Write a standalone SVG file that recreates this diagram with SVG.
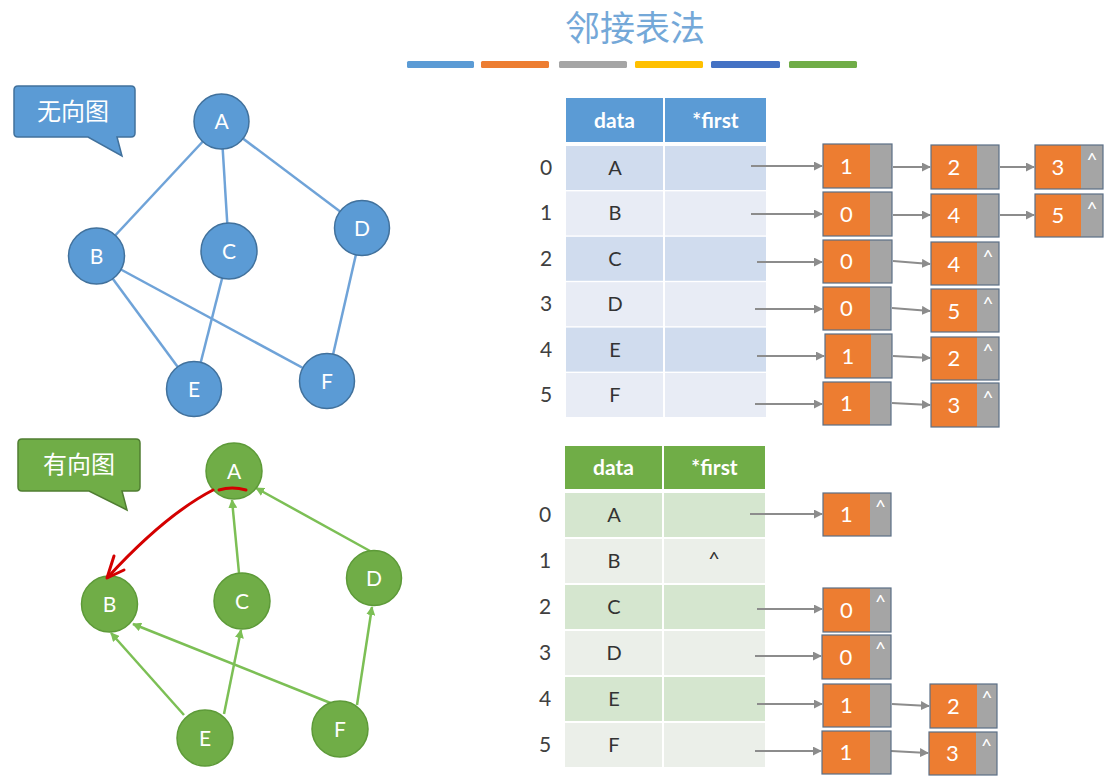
<svg xmlns="http://www.w3.org/2000/svg" width="1107" height="784" viewBox="0 0 1107 784">
<defs>
<style>
.t{font-family:Lato,"Open Sans","Liberation Sans",sans-serif;text-anchor:middle}
.cjk{font-family:"Noto Sans CJK SC",sans-serif;text-anchor:middle}
.bn circle{fill:#5b9bd5;stroke:#41719c;stroke-width:1.5}
.gn circle{fill:#70ad47;stroke:#5d9a38;stroke-width:1.5}
.nl{font-size:21px;fill:#fff}
.be{stroke:#6fa3d8;stroke-width:2.5;fill:none}
.ge{stroke:#7cbf55;stroke-width:2.5;fill:none}
.pa{stroke:#8c8c8c;stroke-width:2;fill:none}
.idx{font-size:21px;fill:#404040}
.cell{font-size:20px;fill:#333}
.hd{font-size:21px;fill:#fff;font-weight:bold}
.or{fill:#ed7d31}
.gr{fill:#a5a5a5}
.box{fill:none;stroke:#5b6f86;stroke-width:1.2}
.nv{font-size:22px;fill:#fff}
.nul{font-size:19px;fill:#fff}
</style>
<marker id="ga" viewBox="0 0 10 10" refX="9" refY="5" markerWidth="9" markerHeight="9" markerUnits="userSpaceOnUse" orient="auto"><path d="M0,0 L10,5 L0,10 z" fill="#8c8c8c"/></marker>
<marker id="gg" viewBox="0 0 10 10" refX="9" refY="5" markerWidth="9" markerHeight="9" markerUnits="userSpaceOnUse" orient="auto"><path d="M0,0 L10,5 L0,10 z" fill="#7cbf55"/></marker>
</defs>
<rect width="1107" height="784" fill="#fff"/>

<g id="title">
<text class="cjk" x="635" y="41" font-size="35" fill="#74a8d8">邻接表法</text>
<rect x="407" y="61" width="67" height="7" rx="1.5" fill="#5b9bd5"/>
<rect x="481" y="61" width="68" height="7" rx="1.5" fill="#ed7d31"/>
<rect x="559" y="61" width="68" height="7" rx="1.5" fill="#a5a5a5"/>
<rect x="635" y="61" width="68" height="7" rx="1.5" fill="#ffc000"/>
<rect x="711" y="61" width="69" height="7" rx="1.5" fill="#4472c4"/>
<rect x="789" y="61" width="68" height="7" rx="1.5" fill="#70ad47"/>
</g>

<g id="callout-undirected">
<path d="M18,86 H131 Q135,86 135,90 V133 Q135,137 131,137 H117 L122,156 L88,137 H18 Q14,137 14,133 V90 Q14,86 18,86 Z" fill="#5b9bd5" stroke="#41719c" stroke-width="1.5"/>
<text class="cjk" x="73" y="120" font-size="24" fill="#fff">无向图</text>
</g>

<g id="undirected-edges">
<line class="be" x1="221" y1="122" x2="96" y2="256"/>
<line class="be" x1="221" y1="122" x2="229" y2="251"/>
<line class="be" x1="221" y1="122" x2="362" y2="228"/>
<line class="be" x1="96" y1="256" x2="194" y2="389"/>
<line class="be" x1="96" y1="256" x2="327" y2="381"/>
<line class="be" x1="229" y1="251" x2="194" y2="389"/>
<line class="be" x1="362" y1="228" x2="327" y2="381"/>
</g>
<g id="uA" class="bn"><circle cx="221.5" cy="121.5" r="27.5"/><text class="t nl" x="221.5" y="129">A</text></g>
<g id="uB" class="bn"><circle cx="96.5" cy="256" r="28"/><text class="t nl" x="96.5" y="263.5">B</text></g>
<g id="uC" class="bn"><circle cx="229" cy="251" r="28"/><text class="t nl" x="229" y="258.5">C</text></g>
<g id="uD" class="bn"><circle cx="362" cy="228" r="27.5"/><text class="t nl" x="362" y="235.5">D</text></g>
<g id="uE" class="bn"><circle cx="194" cy="389" r="27.5"/><text class="t nl" x="194" y="396.5">E</text></g>
<g id="uF" class="bn"><circle cx="327" cy="381" r="27.5"/><text class="t nl" x="327" y="388.5">F</text></g>

<g id="callout-directed">
<path d="M22,439 H136 Q140,439 140,443 V487 Q140,491 136,491 H122 L127,510 L89,491 H22 Q18,491 18,487 V443 Q18,439 22,439 Z" fill="#70ad47" stroke="#507e32" stroke-width="1.5"/>
<text class="cjk" x="79" y="473" font-size="24" fill="#fff">有向图</text>
</g>

<g id="directed-edges">
<line class="ge" x1="239" y1="573" x2="232" y2="500" marker-end="url(#gg)"/>
<line class="ge" x1="370" y1="551" x2="256" y2="488" marker-end="url(#gg)"/>
<line class="ge" x1="184" y1="715" x2="111" y2="633" marker-end="url(#gg)"/>
<line class="ge" x1="333" y1="704" x2="133" y2="624" marker-end="url(#gg)"/>
<line class="ge" x1="224" y1="714" x2="241" y2="630" marker-end="url(#gg)"/>
<line class="ge" x1="357" y1="705" x2="372" y2="607" marker-end="url(#gg)"/>
</g>
<g id="dA" class="gn"><circle cx="234" cy="471" r="28"/><text class="t nl" x="234" y="478.5">A</text></g>
<g id="dB" class="gn"><circle cx="109.5" cy="604" r="28"/><text class="t nl" x="109.5" y="611.5">B</text></g>
<g id="dC" class="gn"><circle cx="242" cy="601" r="28"/><text class="t nl" x="242" y="608.5">C</text></g>
<g id="dD" class="gn"><circle cx="374" cy="578" r="27.5"/><text class="t nl" x="374" y="585.5">D</text></g>
<g id="dE" class="gn"><circle cx="205" cy="738" r="28"/><text class="t nl" x="205" y="745.5">E</text></g>
<g id="dF" class="gn"><circle cx="340" cy="729" r="28"/><text class="t nl" x="340" y="736.5">F</text></g>

<g id="red-annotation" fill="none" stroke="#d40000" stroke-width="3" stroke-linecap="round" stroke-linejoin="round">
<path d="M219,490 Q232,486 246,490"/>
<path d="M213,490 Q165,515 108,577"/>
<path d="M114,556 L107,578 L124,570"/>
</g>

<g id="table-undirected">
<rect x="566" y="98" width="97" height="44" fill="#5b9bd5"/>
<rect x="665" y="98" width="101" height="44" fill="#5b9bd5"/>
<text class="t hd" x="614.5" y="128">data</text>
<text class="t hd" x="715.5" y="128">*first</text>
<rect x="566" y="146" width="97" height="44" fill="#d0dcee"/><rect x="665" y="146" width="101" height="44" fill="#d0dcee"/>
<rect x="566" y="191.4" width="97" height="44" fill="#e8ecf5"/><rect x="665" y="191.4" width="101" height="44" fill="#e8ecf5"/>
<rect x="566" y="236.8" width="97" height="44" fill="#d0dcee"/><rect x="665" y="236.8" width="101" height="44" fill="#d0dcee"/>
<rect x="566" y="282.2" width="97" height="44" fill="#e8ecf5"/><rect x="665" y="282.2" width="101" height="44" fill="#e8ecf5"/>
<rect x="566" y="327.6" width="97" height="44" fill="#d0dcee"/><rect x="665" y="327.6" width="101" height="44" fill="#d0dcee"/>
<rect x="566" y="373" width="97" height="44" fill="#e8ecf5"/><rect x="665" y="373" width="101" height="44" fill="#e8ecf5"/>
<text class="t idx" x="546" y="175">0</text><text class="t cell" x="615" y="175">A</text>
<text class="t idx" x="546" y="220">1</text><text class="t cell" x="615" y="220">B</text>
<text class="t idx" x="546" y="266">2</text><text class="t cell" x="615" y="266">C</text>
<text class="t idx" x="546" y="311">3</text><text class="t cell" x="615" y="311">D</text>
<text class="t idx" x="546" y="357">4</text><text class="t cell" x="615" y="357">E</text>
<text class="t idx" x="546" y="402">5</text><text class="t cell" x="615" y="402">F</text>
</g>

<g id="table-directed">
<rect x="565" y="446" width="97" height="43" fill="#70ad47"/>
<rect x="664" y="446" width="101" height="43" fill="#70ad47"/>
<text class="t hd" x="613.5" y="475">data</text>
<text class="t hd" x="714.5" y="475">*first</text>
<rect x="565" y="493" width="97" height="44" fill="#d5e6cf"/><rect x="664" y="493" width="101" height="44" fill="#d5e6cf"/>
<rect x="565" y="539" width="97" height="44" fill="#ebefe9"/><rect x="664" y="539" width="101" height="44" fill="#ebefe9"/>
<rect x="565" y="585" width="97" height="44" fill="#d5e6cf"/><rect x="664" y="585" width="101" height="44" fill="#d5e6cf"/>
<rect x="565" y="631" width="97" height="44" fill="#ebefe9"/><rect x="664" y="631" width="101" height="44" fill="#ebefe9"/>
<rect x="565" y="677" width="97" height="44" fill="#d5e6cf"/><rect x="664" y="677" width="101" height="44" fill="#d5e6cf"/>
<rect x="565" y="723" width="97" height="44" fill="#ebefe9"/><rect x="664" y="723" width="101" height="44" fill="#ebefe9"/>
<text class="t idx" x="545" y="522">0</text><text class="t cell" x="614" y="522">A</text>
<text class="t idx" x="545" y="568">1</text><text class="t cell" x="614" y="568">B</text>
<text class="t cell" x="714" y="566" font-size="17">^</text>
<text class="t idx" x="545" y="614">2</text><text class="t cell" x="614" y="614">C</text>
<text class="t idx" x="545" y="660">3</text><text class="t cell" x="614" y="660">D</text>
<text class="t idx" x="545" y="706">4</text><text class="t cell" x="614" y="706">E</text>
<text class="t idx" x="545" y="752">5</text><text class="t cell" x="614" y="752">F</text>
</g>

<g id="connectors">
<line class="pa" x1="751" y1="166" x2="822" y2="166" marker-end="url(#ga)"/>
<line class="pa" x1="751" y1="214" x2="822" y2="214" marker-end="url(#ga)"/>
<line class="pa" x1="757" y1="262" x2="822" y2="262" marker-end="url(#ga)"/>
<line class="pa" x1="755" y1="309" x2="822" y2="309" marker-end="url(#ga)"/>
<line class="pa" x1="757" y1="356" x2="824" y2="356" marker-end="url(#ga)"/>
<line class="pa" x1="755" y1="404" x2="822" y2="404" marker-end="url(#ga)"/>
<line class="pa" x1="893" y1="167" x2="930" y2="167" marker-end="url(#ga)"/>
<line class="pa" x1="893" y1="215" x2="930" y2="215" marker-end="url(#ga)"/>
<line class="pa" x1="893" y1="261" x2="930" y2="264" marker-end="url(#ga)"/>
<line class="pa" x1="892" y1="308" x2="930" y2="311" marker-end="url(#ga)"/>
<line class="pa" x1="893" y1="356" x2="930" y2="358" marker-end="url(#ga)"/>
<line class="pa" x1="892" y1="403" x2="930" y2="405" marker-end="url(#ga)"/>
<line class="pa" x1="1000" y1="167" x2="1034" y2="167" marker-end="url(#ga)"/>
<line class="pa" x1="1000" y1="215" x2="1034" y2="215" marker-end="url(#ga)"/>
<line class="pa" x1="750" y1="514" x2="822" y2="514" marker-end="url(#ga)"/>
<line class="pa" x1="757" y1="609" x2="822" y2="609" marker-end="url(#ga)"/>
<line class="pa" x1="755" y1="656" x2="821" y2="656" marker-end="url(#ga)"/>
<line class="pa" x1="757" y1="704" x2="822" y2="704" marker-end="url(#ga)"/>
<line class="pa" x1="755" y1="751" x2="821" y2="751" marker-end="url(#ga)"/>
<line class="pa" x1="892" y1="704" x2="929" y2="706" marker-end="url(#ga)"/>
<line class="pa" x1="891" y1="751" x2="928" y2="753" marker-end="url(#ga)"/>
</g>

<g id="n0-1"><rect class="or" x="823" y="144" width="47" height="44"/><rect class="gr" x="870" y="144" width="22" height="44"/><rect class="box" x="823" y="144" width="69" height="44"/><text class="t nv" x="846.5" y="174">1</text></g>
<g id="n0-2"><rect class="or" x="931" y="145" width="46" height="44"/><rect class="gr" x="977" y="145" width="22" height="44"/><rect class="box" x="931" y="145" width="68" height="44"/><text class="t nv" x="954" y="175">2</text></g>
<g id="n0-3"><rect class="or" x="1035" y="145" width="46" height="44"/><rect class="gr" x="1081" y="145" width="22" height="44"/><rect class="box" x="1035" y="145" width="68" height="44"/><text class="t nv" x="1058" y="175">3</text><text class="t nul" x="1092" y="167">^</text></g>
<g id="n1-1"><rect class="or" x="823" y="192" width="47" height="44"/><rect class="gr" x="870" y="192" width="22" height="44"/><rect class="box" x="823" y="192" width="69" height="44"/><text class="t nv" x="846.5" y="222">0</text></g>
<g id="n1-2"><rect class="or" x="931" y="194" width="46" height="43"/><rect class="gr" x="977" y="194" width="22" height="43"/><rect class="box" x="931" y="194" width="68" height="43"/><text class="t nv" x="954" y="223">4</text></g>
<g id="n1-3"><rect class="or" x="1035" y="194" width="46" height="43"/><rect class="gr" x="1081" y="194" width="22" height="43"/><rect class="box" x="1035" y="194" width="68" height="43"/><text class="t nv" x="1058" y="223">5</text><text class="t nul" x="1092" y="216">^</text></g>
<g id="n2-1"><rect class="or" x="823" y="240" width="47" height="43"/><rect class="gr" x="870" y="240" width="22" height="43"/><rect class="box" x="823" y="240" width="69" height="43"/><text class="t nv" x="846.5" y="269">0</text></g>
<g id="n2-2"><rect class="or" x="931" y="242" width="46" height="43"/><rect class="gr" x="977" y="242" width="22" height="43"/><rect class="box" x="931" y="242" width="68" height="43"/><text class="t nv" x="954" y="272">4</text><text class="t nul" x="988" y="264">^</text></g>
<g id="n3-1"><rect class="or" x="823" y="287" width="47" height="43"/><rect class="gr" x="870" y="287" width="21" height="43"/><rect class="box" x="823" y="287" width="68" height="43"/><text class="t nv" x="846.5" y="316">0</text></g>
<g id="n3-2"><rect class="or" x="931" y="289" width="46" height="43"/><rect class="gr" x="977" y="289" width="22" height="43"/><rect class="box" x="931" y="289" width="68" height="43"/><text class="t nv" x="954" y="319">5</text><text class="t nul" x="988" y="311">^</text></g>
<g id="n4-1"><rect class="or" x="825" y="334" width="46" height="44"/><rect class="gr" x="871" y="334" width="21" height="44"/><rect class="box" x="825" y="334" width="67" height="44"/><text class="t nv" x="848" y="364">1</text></g>
<g id="n4-2"><rect class="or" x="931" y="337" width="46" height="43"/><rect class="gr" x="977" y="337" width="22" height="43"/><rect class="box" x="931" y="337" width="68" height="43"/><text class="t nv" x="954" y="366">2</text><text class="t nul" x="988" y="358">^</text></g>
<g id="n5-1"><rect class="or" x="823" y="382" width="47" height="43"/><rect class="gr" x="870" y="382" width="21" height="43"/><rect class="box" x="823" y="382" width="68" height="43"/><text class="t nv" x="846.5" y="411">1</text></g>
<g id="n5-2"><rect class="or" x="931" y="383" width="46" height="44"/><rect class="gr" x="977" y="383" width="22" height="44"/><rect class="box" x="931" y="383" width="68" height="44"/><text class="t nv" x="954" y="413">3</text><text class="t nul" x="988" y="405">^</text></g>

<g id="m0-1"><rect class="or" x="823" y="493" width="47" height="43"/><rect class="gr" x="870" y="493" width="21" height="43"/><rect class="box" x="823" y="493" width="68" height="43"/><text class="t nv" x="846.5" y="522">1</text><text class="t nul" x="880.5" y="514">^</text></g>
<g id="m2-1"><rect class="or" x="823" y="588" width="47" height="44"/><rect class="gr" x="870" y="588" width="21" height="44"/><rect class="box" x="823" y="588" width="68" height="44"/><text class="t nv" x="846.5" y="618">0</text><text class="t nul" x="880.5" y="609">^</text></g>
<g id="m3-1"><rect class="or" x="822" y="635" width="48" height="44"/><rect class="gr" x="870" y="635" width="21" height="44"/><rect class="box" x="822" y="635" width="69" height="44"/><text class="t nv" x="846" y="665">0</text><text class="t nul" x="880.5" y="656">^</text></g>
<g id="m4-1"><rect class="or" x="823" y="684" width="47" height="43"/><rect class="gr" x="870" y="684" width="21" height="43"/><rect class="box" x="823" y="684" width="68" height="43"/><text class="t nv" x="846.5" y="713">1</text></g>
<g id="m4-2"><rect class="or" x="930" y="684" width="47" height="44"/><rect class="gr" x="977" y="684" width="20" height="44"/><rect class="box" x="930" y="684" width="67" height="44"/><text class="t nv" x="953.5" y="714">2</text><text class="t nul" x="987" y="705">^</text></g>
<g id="m5-1"><rect class="or" x="822" y="731" width="48" height="43"/><rect class="gr" x="870" y="731" width="21" height="43"/><rect class="box" x="822" y="731" width="69" height="43"/><text class="t nv" x="846" y="760">1</text></g>
<g id="m5-2"><rect class="or" x="929" y="732" width="47" height="43"/><rect class="gr" x="976" y="732" width="21" height="43"/><rect class="box" x="929" y="732" width="68" height="43"/><text class="t nv" x="952.5" y="761">3</text><text class="t nul" x="986.5" y="753">^</text></g>
</svg>
